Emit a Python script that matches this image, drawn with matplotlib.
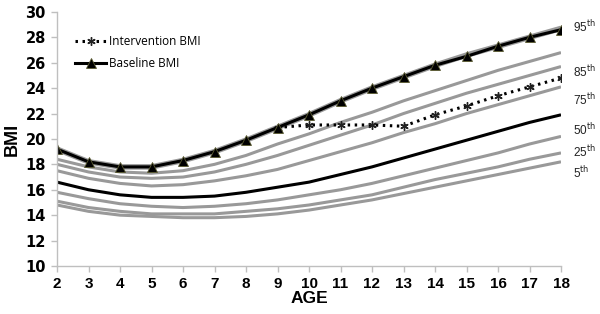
import matplotlib
matplotlib.use("Agg")
import matplotlib.pyplot as plt

ages = list(range(2, 19))
p95 = [19.2, 18.2, 17.8, 17.8, 18.3, 19.0, 19.9, 20.9, 21.9, 23.0, 24.0, 24.9, 25.8, 26.6, 27.3, 28.0, 28.7]
p90 = [18.4, 17.8, 17.4, 17.3, 17.5, 18.0, 18.7, 19.6, 20.4, 21.3, 22.1, 23.0, 23.8, 24.6, 25.4, 26.1, 26.8]
p85 = [18.0, 17.4, 17.0, 16.9, 17.0, 17.4, 18.0, 18.7, 19.5, 20.3, 21.1, 22.0, 22.8, 23.6, 24.3, 25.0, 25.7]
p75 = [17.5, 16.9, 16.5, 16.3, 16.4, 16.7, 17.1, 17.6, 18.3, 19.0, 19.7, 20.5, 21.2, 22.0, 22.7, 23.4, 24.1]
p50 = [16.6, 16.0, 15.6, 15.4, 15.4, 15.5, 15.8, 16.2, 16.6, 17.2, 17.8, 18.5, 19.2, 19.9, 20.6, 21.3, 21.9]
p25 = [15.8, 15.3, 14.9, 14.7, 14.6, 14.7, 14.9, 15.2, 15.6, 16.0, 16.5, 17.1, 17.7, 18.3, 18.9, 19.6, 20.2]
p10 = [15.1, 14.6, 14.3, 14.1, 14.1, 14.1, 14.3, 14.5, 14.8, 15.2, 15.6, 16.2, 16.8, 17.3, 17.8, 18.4, 18.9]
p5 = [14.8, 14.3, 14.0, 13.9, 13.8, 13.8, 13.9, 14.1, 14.4, 14.8, 15.2, 15.7, 16.2, 16.7, 17.2, 17.7, 18.2]

baseline = [19.2, 18.2, 17.8, 17.8, 18.3, 19.0, 19.9, 20.9, 21.9, 23.0, 24.0, 24.9, 25.8, 26.5, 27.3, 28.0, 28.6]
int_ages = list(range(9, 19))
intervention = [20.9, 21.1, 21.1, 21.1, 21.0, 21.9, 22.6, 23.4, 24.1, 24.8]

pct_labels = ["95", "85", "75", "50", "25", "5"]
pct_label_y = [28.8, 25.3, 23.1, 20.7, 19.0, 17.3]

fig = plt.figure(figsize=(6.0, 3.14), dpi=100)
ax = fig.add_axes([0.095, 0.153, 0.84, 0.809])

gray = "#999999"
for s in [p90, p85, p75, p25, p10, p5]:
    ax.plot(ages, s, color=gray, lw=2.2, solid_capstyle="butt")
ax.plot(ages, p95, color=gray, lw=4.0, solid_capstyle="butt")
ax.plot(ages, p50, color="black", lw=2.2, solid_capstyle="butt")

ax.plot(int_ages, intervention, color="black", lw=2.2, linestyle=(0, (0.8, 1.5)),
        marker=(6, 2, 0), markersize=6, markeredgewidth=1.0, markeredgecolor="#222222",
        label="Intervention BMI")
ax.plot(ages, baseline, color="black", lw=2.2, marker="^", markersize=7,
        markerfacecolor="black", markeredgecolor="#5a5a30", markeredgewidth=0.6,
        label="Baseline BMI")

ax.set_xlim(2, 18)
ax.set_ylim(10, 30)
ax.set_xticks(ages)
ax.set_yticks(range(10, 31, 2))
for sp in ["top", "right"]:
    ax.spines[sp].set_visible(False)
for sp in ["left", "bottom"]:
    ax.spines[sp].set_color("#bfbfbf")
    ax.spines[sp].set_linewidth(1.0)
ax.tick_params(axis="both", direction="out", length=4, color="#bfbfbf", width=1.0,
               labelsize=11, pad=4)
for lab in ax.get_xticklabels():
    lab.set_fontweight("bold")
    lab.set_family("Liberation Sans")
    lab.set_fontsize(11)
for lab in ax.get_yticklabels():
    lab.set_fontweight("bold")
    lab.set_family("DejaVu Sans")
    lab.set_fontsize(10.5)

ax.set_xlabel("AGE", fontsize=12.5, fontweight="bold", family="Liberation Sans", labelpad=0)
ax.set_ylabel("BMI", fontsize=13, fontweight="bold", family="Liberation Sans", labelpad=3)

for lab, y in zip(pct_labels, pct_label_y):
    ax.text(18.38, y, lab + r"$^{\mathrm{th}}$", fontsize=8.5, family="Liberation Sans",
            color="#222222", va="center", ha="left", clip_on=False)

leg = ax.legend(loc="upper left", bbox_to_anchor=(0.015, 0.95), frameon=False,
                handlelength=2.6, handletextpad=0.3, labelspacing=0.75,
                prop={"family": "Open Sans", "size": 8.5})

fig.savefig("out.png", dpi=100)
